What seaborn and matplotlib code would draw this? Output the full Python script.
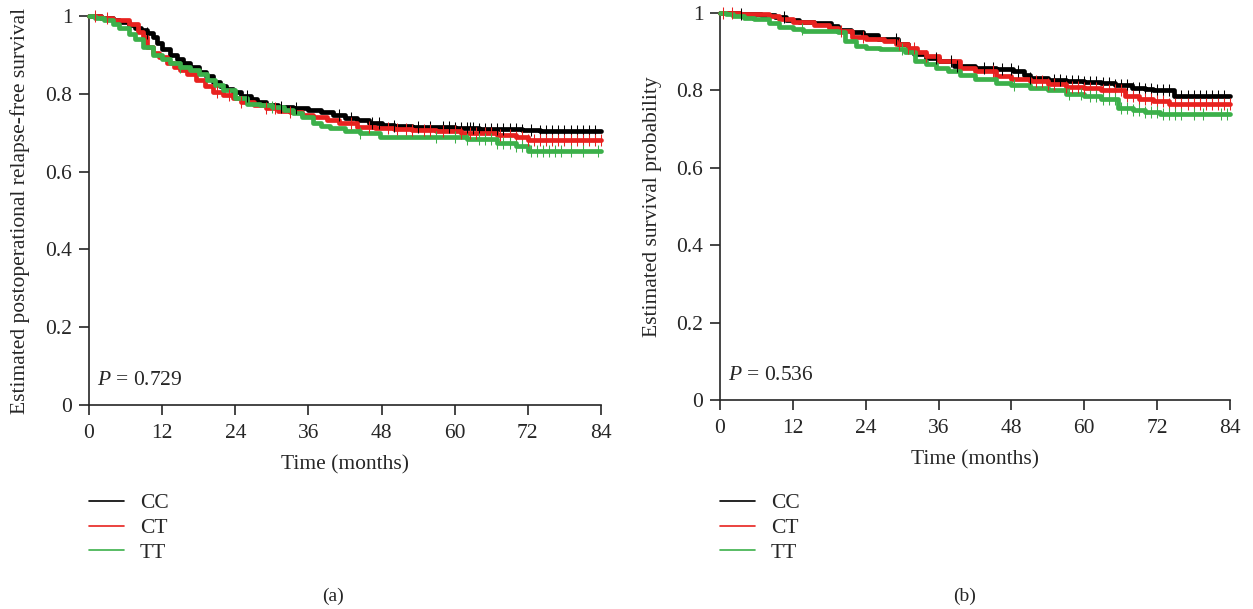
import numpy as np
import pandas as pd
import matplotlib
matplotlib.use("Agg")
import matplotlib.pyplot as plt
from matplotlib.lines import Line2D
import seaborn as sns

# ---------------- data ----------------
groups = ["CC", "CT", "TT"]
colors = {"CC": "#000000", "CT": "#e8221f", "TT": "#3cb04a"}

# Panel (a): relapse-free survival
a_cc_t = [0, 2, 4, 5, 6.5, 7.5, 8.5, 9.5, 10.5, 11.2, 12, 13.3, 14.5, 15.5, 16.6, 18, 19.2, 20.4, 21.5, 22.5, 23.6, 25, 26.5, 27.5, 29, 31, 33.5, 36, 38, 40, 42, 44, 46, 48, 50, 53, 56, 60, 64, 68, 71, 74, 78, 84]
a_cc_s = [1, 0.995, 0.99, 0.985, 0.977, 0.97, 0.963, 0.956, 0.945, 0.93, 0.915, 0.90, 0.89, 0.88, 0.87, 0.857, 0.845, 0.83, 0.82, 0.812, 0.805, 0.795, 0.787, 0.78, 0.772, 0.767, 0.763, 0.758, 0.752, 0.745, 0.738, 0.732, 0.725, 0.72, 0.717, 0.714, 0.714, 0.712, 0.71, 0.71, 0.707, 0.705, 0.705, 0.705]
a_ct_t = [0, 2, 4, 6.5, 8, 8.9, 9.5, 10.5, 11.5, 12.8, 14, 14.9, 16, 17.6, 19, 20.4, 22, 23.6, 25, 27, 29, 31, 33, 35, 36.8, 39, 41, 44, 47, 50, 53, 57, 61, 64, 67, 70, 72, 84]
a_ct_s = [1, 0.995, 0.99, 0.98, 0.96, 0.945, 0.92, 0.905, 0.895, 0.88, 0.87, 0.86, 0.85, 0.835, 0.82, 0.805, 0.797, 0.79, 0.78, 0.772, 0.763, 0.757, 0.752, 0.746, 0.74, 0.733, 0.725, 0.715, 0.712, 0.709, 0.707, 0.705, 0.70, 0.698, 0.695, 0.69, 0.68, 0.68]
a_tt_t = [0, 1, 2.5, 4, 5, 6.5, 7.5, 8.9, 10.5, 12, 13.3, 15, 16.6, 18, 19.4, 20.7, 22, 24, 26, 28, 30, 32, 33.5, 35, 36.8, 38, 39.6, 42, 44.5, 47.7, 56, 62, 67, 70, 72, 84]
a_tt_s = [1, 0.995, 0.99, 0.98, 0.97, 0.955, 0.94, 0.92, 0.90, 0.89, 0.88, 0.87, 0.86, 0.85, 0.835, 0.822, 0.81, 0.79, 0.775, 0.77, 0.767, 0.758, 0.75, 0.74, 0.725, 0.718, 0.712, 0.705, 0.70, 0.69, 0.688, 0.685, 0.673, 0.665, 0.653, 0.653]

a_cc_cens = [9.5, 26, 31.5, 34, 41, 43, 46.5, 47.5, 50, 54, 56, 58, 59, 60, 61, 62, 62.5, 63, 64, 65, 66, 67, 68, 69, 70, 71, 72.5, 74, 75, 76, 77, 78, 79, 80, 81, 82, 83]
a_ct_cens = [1, 3, 21, 23, 25, 29, 30.5, 33, 43, 46, 49, 50.5, 52, 53, 55, 56, 58, 60, 61, 62.5, 63.5, 65, 66, 67.5, 69, 70, 71, 72, 73, 74, 75, 76, 77, 78, 79, 80, 81, 82, 83, 84]
a_tt_cens = [15, 30, 44.5, 57, 60, 62, 64, 65, 66, 67, 68, 69, 70, 71, 72.5, 73.5, 74.5, 75.5, 76.5, 77.5, 79, 81, 83.5]

# Panel (b): overall survival
b_cc_t = [0, 3.3, 6.8, 9.1, 10.8, 13, 15.4, 18.3, 19.5, 21.5, 23.5, 26, 29.3, 31, 32, 34, 36, 38.5, 42, 45.4, 48.3, 50, 51, 54, 57, 60, 62.7, 65, 67.9, 70, 71.3, 74.8, 84]
b_cc_s = [1, 0.997, 0.995, 0.99, 0.983, 0.978, 0.974, 0.967, 0.957, 0.95, 0.943, 0.932, 0.92, 0.905, 0.894, 0.885, 0.875, 0.863, 0.858, 0.855, 0.85, 0.84, 0.833, 0.828, 0.824, 0.822, 0.82, 0.813, 0.807, 0.803, 0.80, 0.785, 0.785]
b_ct_t = [0, 3.3, 8, 9.7, 12, 15.4, 18, 19.5, 21.8, 24, 27, 29, 31, 32.5, 33.9, 36, 39.6, 42, 45.4, 48, 51, 54, 57, 60, 62.7, 66.7, 69, 71.3, 74, 84]
b_ct_s = [1, 0.997, 0.993, 0.984, 0.977, 0.97, 0.962, 0.954, 0.937, 0.932, 0.928, 0.92, 0.91, 0.9, 0.889, 0.875, 0.859, 0.85, 0.837, 0.83, 0.824, 0.817, 0.81, 0.805, 0.80, 0.785, 0.778, 0.772, 0.764, 0.764]
b_tt_t = [0, 1, 2.2, 4, 5.6, 8, 9.7, 12, 13.7, 19.5, 20.6, 22.4, 24, 26.4, 30.4, 32.1, 34, 35.6, 37.5, 39.6, 42, 45.4, 48, 51, 54, 57, 60, 62.7, 65.5, 68, 70, 72.5, 84]
b_tt_s = [1, 0.997, 0.993, 0.988, 0.984, 0.974, 0.963, 0.958, 0.954, 0.95, 0.928, 0.915, 0.91, 0.906, 0.898, 0.876, 0.868, 0.859, 0.85, 0.84, 0.83, 0.82, 0.815, 0.807, 0.8, 0.79, 0.785, 0.777, 0.755, 0.75, 0.745, 0.738, 0.738]

b_cc_cens = [3.5, 10.5, 29, 35.5, 38, 39, 43.5, 45, 46.5, 48, 49, 51, 55, 56, 57, 58, 59, 60, 61, 62, 63, 64, 65, 66, 67, 68, 69, 70, 71, 72, 73, 74, 75, 76, 77, 78, 79, 80, 81, 82, 83]
b_ct_cens = [0.5, 2, 20, 23.5, 29.5, 31, 32, 34, 45, 52, 53, 54, 55, 57, 58, 59, 60, 61, 62, 63, 64, 65, 66, 67, 68, 69, 70, 71, 72, 73, 74, 75, 76, 77, 78, 79, 80, 81, 82, 83, 84]
b_tt_cens = [13.5, 30, 48.5, 57.5, 59.5, 61, 62, 63, 64, 65, 66, 67, 68, 69, 70, 71, 72, 73, 74, 75, 76, 78, 79.5, 82.5, 83.5]

x_ticks = [0, 12, 24, 36, 48, 60, 72, 84]
y_ticks = [0, 0.2, 0.4, 0.6, 0.8, 1.0]
y_ticklabels = ["0", "0.2", "0.4", "0.6", "0.8", "1"]

panels = [
    dict(curves={"CC": (a_cc_t, a_cc_s), "CT": (a_ct_t, a_ct_s), "TT": (a_tt_t, a_tt_s)},
         cens={"CC": a_cc_cens, "CT": a_ct_cens, "TT": a_tt_cens},
         ylabel="Estimated postoperational relapse-free survival", p="0.729", tag="(a)"),
    dict(curves={"CC": (b_cc_t, b_cc_s), "CT": (b_ct_t, b_ct_s), "TT": (b_tt_t, b_tt_s)},
         cens={"CC": b_cc_cens, "CT": b_ct_cens, "TT": b_tt_cens},
         ylabel="Estimated survival probability", p="0.536", tag="(b)"),
]

# ---------------- style ----------------
sns.set_style("ticks")
plt.rcParams["font.family"] = ["Liberation Serif", "DejaVu Serif"]
plt.rcParams["mathtext.fontset"] = "custom"
plt.rcParams["mathtext.rm"] = "Liberation Serif"
plt.rcParams["mathtext.it"] = "Liberation Serif:italic"

FS = 15.5
W, H = 1253, 609
fig = plt.figure(figsize=(W / 100, H / 100), dpi=100)

def fx(px):
    return px / W

def fy(py):
    return 1 - py / H

axes_px = [(89, 16, 601, 405), (720, 13, 1230, 400)]
ylabel_x = [30, 662]
legend_px = [(85, 489), (716, 489)]
tag_px = [(333, 596), (965, 596)]

for i, (panel, (l, t, r, b)) in enumerate(zip(panels, axes_px)):
    ax = fig.add_axes([fx(l), fy(b), fx(r - l), (b - t) / H])
    for g in groups:
        tt, ss = panel["curves"][g]
        df = pd.DataFrame({"t": tt, "s": ss})
        sns.lineplot(data=df, x="t", y="s", ax=ax, color=colors[g], lw=3.4,
                     drawstyle="steps-post", estimator=None, sort=False,
                     clip_on=False, zorder=3)
        ct = np.array(panel["cens"][g], dtype=float)
        idx = np.searchsorted(np.array(tt), ct, side="right") - 1
        cs = np.array(ss)[idx]
        cdf = pd.DataFrame({"t": ct, "s": cs})
        sns.scatterplot(data=cdf, x="t", y="s", ax=ax, marker="|", s=85,
                        color=colors[g], edgecolor=colors[g], linewidth=0.75,
                        clip_on=False, zorder=4, legend=False)
    ax.set_xlim(0, 84)
    ax.set_ylim(0, 1)
    ax.set_xticks(x_ticks)
    ax.set_xticklabels([str(v) for v in x_ticks])
    ax.set_yticks(y_ticks)
    ax.set_yticklabels(y_ticklabels)
    for sp in ["top", "right"]:
        ax.spines[sp].set_visible(False)
    for sp in ["left", "bottom"]:
        ax.spines[sp].set_linewidth(1.2)
    ax.tick_params(axis="both", length=7, width=1.2, labelsize=FS, direction="out")
    ax.tick_params(axis="x", pad=6.5)
    ax.tick_params(axis="y", pad=5)
    ax.set_xlabel("Time (months)", fontsize=FS, labelpad=9)
    ax.set_ylabel(panel["ylabel"], fontsize=FS)
    ax.yaxis.set_label_coords((ylabel_x[i] - l) / (r - l), 0.5)
    ax.text(1.3, 0.064, r"$P$ = " + panel["p"], fontsize=FS, va="center", ha="left")

    handles = [Line2D([0], [0], color=colors[g], lw=1.2) for g in groups]
    lx, ly = legend_px[i]
    fig.legend(handles, groups, loc="upper left", bbox_to_anchor=(fx(lx), fy(ly)),
               frameon=False, fontsize=FS, handlelength=1.6, handletextpad=0.75,
               labelspacing=0.22, borderpad=0.2, borderaxespad=0)
    fig.text(fx(tag_px[i][0]), fy(tag_px[i][1]), panel["tag"], fontsize=14,
             ha="center", va="center")

fig.savefig("out.png", dpi=100)
